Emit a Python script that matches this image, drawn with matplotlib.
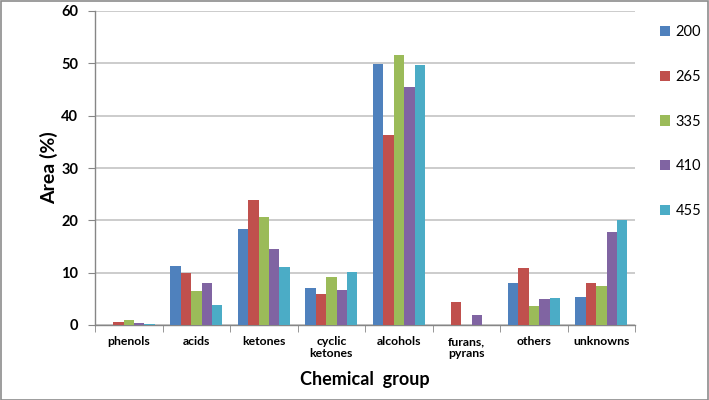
import matplotlib
matplotlib.use("Agg")
import matplotlib.pyplot as plt
import numpy as np
from matplotlib.patches import Rectangle

plt.rcParams['font.family'] = ['Lato', 'DejaVu Sans']

categories = ["phenols", "acids", "ketones", "cyclic\nketones", "alcohols",
              "furans,\npyrans", "others", "unknowns"]
series_names = ["200", "265", "335", "410", "455"]
s200 = [0.0, 11.3, 18.3, 7.0, 49.9, 0.0, 8.1, 5.4]
s265 = [0.5, 9.9, 23.8, 5.9, 36.4, 4.3, 10.9, 8.1]
s335 = [0.9, 6.5, 20.6, 9.2, 51.6, 0.0, 3.7, 7.4]
s410 = [0.35, 8.0, 14.5, 6.7, 45.5, 1.9, 4.9, 17.7]
s455 = [0.1, 3.8, 11.0, 10.05, 49.6, 0.0, 5.1, 20.0]
series = [s200, s265, s335, s410, s455]
colors = ["#4F81BD", "#C0504D", "#9BBB59", "#8064A2", "#4BACC6"]

fig = plt.figure(figsize=(7.09, 4.0), dpi=100)
ax = fig.add_axes([0.134, 0.1875, 0.762, 0.785])

n = len(categories)
x = np.arange(n)
bw = 0.154
for i, (vals, c, name) in enumerate(zip(series, colors, series_names)):
    ax.bar(x + (i - 2) * bw, vals, width=bw, color=c, label=name, zorder=3)

ax.set_xlim(-0.5, n - 0.5)
ax.set_ylim(0, 60)
ax.set_yticks(np.arange(0, 61, 10))
ax.yaxis.grid(True, color="#C8C8C8", linewidth=1.3, zorder=0)
ax.set_axisbelow(True)

ax.set_xticks(x)
ax.set_xticklabels(categories, fontsize=8.8, fontweight="bold", linespacing=1.05)
ax.set_xticks(np.arange(-0.5, n, 1.0), minor=True)
ax.tick_params(axis="x", which="major", length=0, pad=8)
ax.tick_params(axis="x", which="minor", length=5, color="#868686", direction="out")
ax.tick_params(axis="y", length=5, color="#868686", direction="out", labelsize=10.5, pad=7)
for lab in ax.get_yticklabels():
    lab.set_fontweight("bold")

for s in ["top", "right"]:
    ax.spines[s].set_visible(False)
for s in ["left", "bottom"]:
    ax.spines[s].set_color("#868686")
    ax.spines[s].set_linewidth(1.0)

ax.set_ylabel("Area (%)", fontsize=14, fontweight="bold", labelpad=2)
ax.set_xlabel("Chemical  group", fontsize=13, fontweight="bold", labelpad=9)

fig.legend(loc="upper left", bbox_to_anchor=(0.922, 0.951), frameon=False,
           fontsize=10.5, handlelength=0.7, handleheight=0.7, handletextpad=0.4,
           labelspacing=2.1, borderaxespad=0)

fig.patches.append(Rectangle((0.001, 0.001), 0.997, 0.997, transform=fig.transFigure,
                             fill=False, edgecolor="#8C8C8C", linewidth=1.2))

fig.savefig("out.png", dpi=100)
